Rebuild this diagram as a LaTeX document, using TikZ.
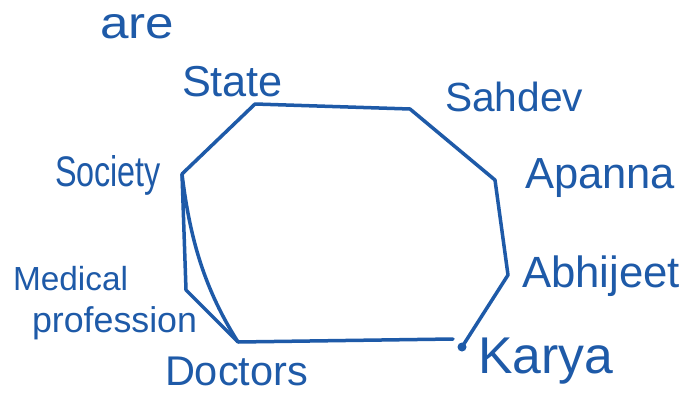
\documentclass[tikz,border=0pt]{standalone}
\usepackage{fontspec}
\usepackage{graphicx}
\setmainfont{Liberation Sans}
\definecolor{ink}{HTML}{1E5AA8}
\newcommand{\hw}[2]{\resizebox{#1pt}{!}{#2}}
\newcommand{\hwh}[3]{\resizebox{#1pt}{#2pt}{#3}}
\tikzset{
  edge/.style={draw=ink, line width=3.5pt, line join=round, line cap=round},
  lbl/.style={anchor=base west, inner sep=0pt, outer sep=0pt, text=ink}
}
\begin{document}
\begin{tikzpicture}[x=1pt,y=-1pt]
\useasboundingbox (0,0) rectangle (685,409);
\fill[white] (0,0) rectangle (685,409);
% vertices
\coordinate (S) at (255,104);
\coordinate (H) at (410,109);
\coordinate (A) at (495,180);
\coordinate (B) at (508,275);
\coordinate (K) at (462,347);
\coordinate (D) at (238,342);
\coordinate (C) at (182,174);
\coordinate (M) at (186,290);
\coordinate (E) at (453,339);
% polygon
\draw[edge] (C) -- (S) -- (H) -- (A) -- (B) -- (K);
\draw[edge] (D) -- (E);
\draw[edge] (C) -- (M) -- (D);
\draw[edge] (C) .. controls (190,240) and (205,290) .. (D);
\fill[ink] (K) circle (4.5pt);
% labels
\node[lbl] (are) at (100,39) {\hwh{74}{24}{are}};
\node[lbl] (state) at (182,97) {\hw{101}{State}};
\node[lbl] (sahdev) at (445,112) {\hw{138}{Sahdev}};
\node[lbl] (society) at (55,186) {\hwh{106}{31}{Society}};
\node[lbl] (apanna) at (525,188) {\hw{150}{Apanna}};
\node[lbl] (medical) at (13,290) {\hw{115}{Medical}};
\node[lbl] (profession) at (32,332) {\hw{165}{profession}};
\node[lbl] (abhijeet) at (522,287) {\hw{158}{Abhijeet}};
\node[lbl] (doctors) at (165,385) {\hw{143}{Doctors}};
\node[lbl] (karya) at (478,373) {\hw{135}{Karya}};
\end{tikzpicture}
\end{document}
